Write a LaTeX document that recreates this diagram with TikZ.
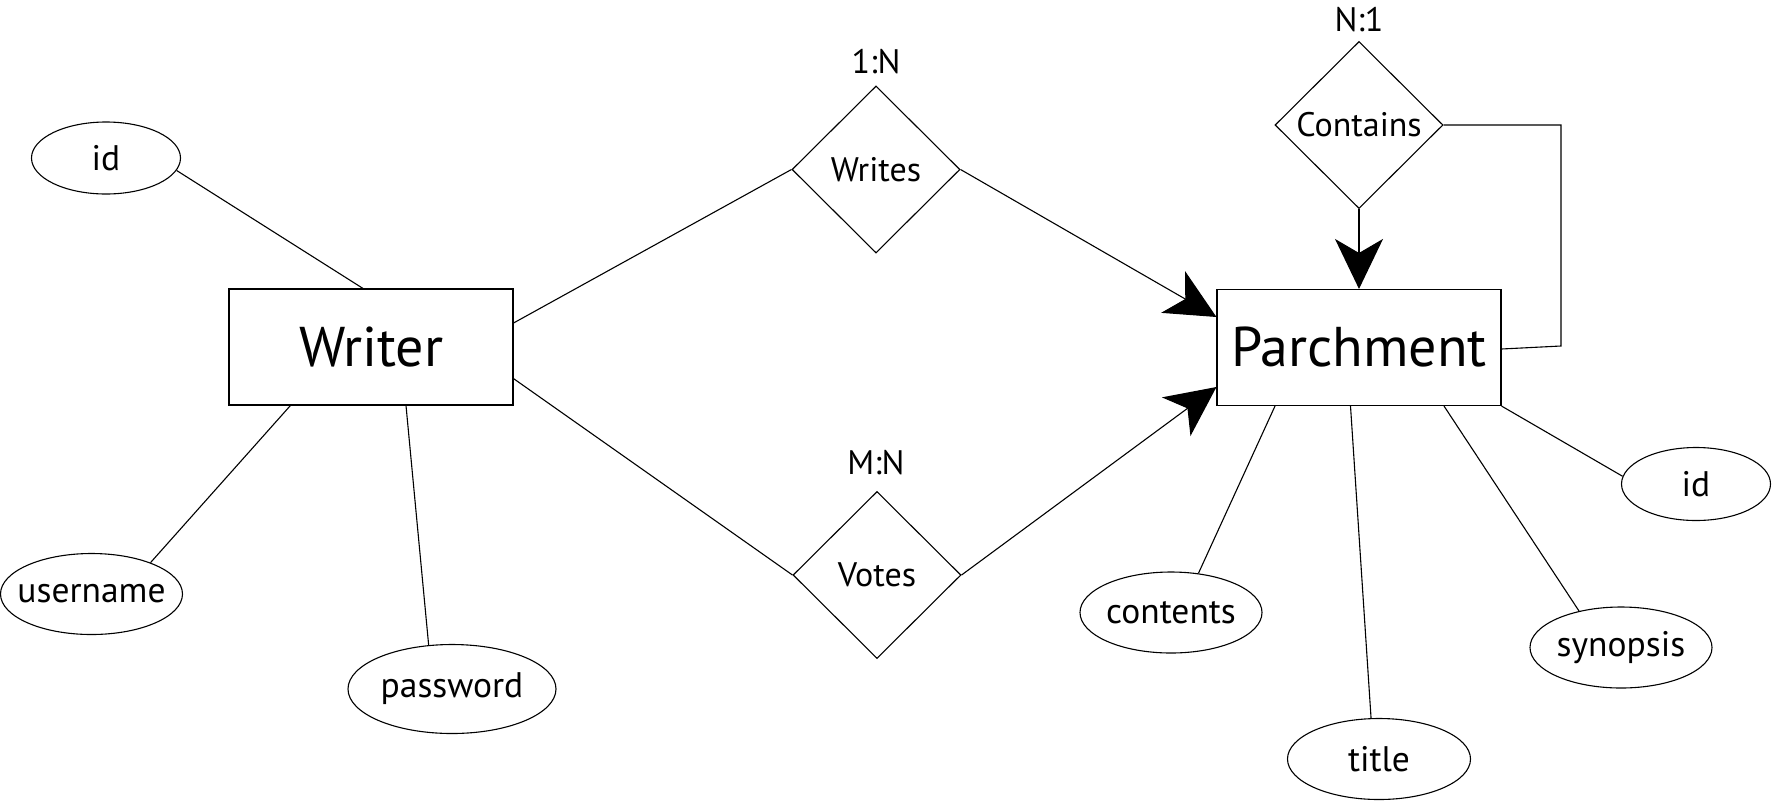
\documentclass[tikz,border=0pt]{standalone}
\usepackage{fontspec}
\setmainfont{PT Sans}
\usetikzlibrary{shapes.geometric,arrows.meta,calc}
\begin{document}
\begin{tikzpicture}[x=1pt,y=-1pt,line width=1.1pt,
  attr/.style={draw,ellipse,inner ysep=0pt,inner xsep=-40pt,minimum width=182pt,minimum height=81pt,font=\fontsize{35.5}{38}\selectfont},
  entity/.style={draw,rectangle,inner sep=0pt,minimum width=284pt,minimum height=116pt,font=\fontsize{56}{60}\selectfont},
  rel/.style={draw,diamond,aspect=1,inner sep=0pt,minimum width=168pt,minimum height=167pt,font=\fontsize{34}{36}\selectfont},
  card/.style={font=\fontsize{34}{36}\selectfont,inner sep=0pt},
  conn/.style={line width=1.1pt},
  tip/.style={-{Stealth[length=50pt,width=48pt,inset=14pt]}}]
\useasboundingbox (0,0) rectangle (1772,804);
\fill[white] (0,0) rectangle (1772,804);
% entities
\node[entity] (writer) at (371,347) {Writer};
\node[entity] (parch) at (1359,347.5) {Parchment};
% relationships
\node[rel] (writes) at (876,169.5) {Writes};
\node[rel] (votes) at (877,575) {Votes};
\node[rel] (contains) at (1359,125) {Contains};
\node[card] (c1) at (876,62) {1:N};
\node[card] (c2) at (876,463) {M:N};
\node[card] (c3) at (1359,20) {N:1};
% attributes
\node[attr,minimum width=149pt,minimum height=72pt] (id1) at (106,158) {id};
\node[attr] (username) at (91.5,594) {username};
\node[attr,minimum width=208pt,minimum height=89pt] (password) at (452,689) {password};
\node[attr,minimum width=149pt,minimum height=73pt] (id2) at (1696,484) {id};
\node[attr] (synopsis) at (1621,647.5) {synopsis};
\node[attr,minimum width=183pt] (title) at (1379,759) {title};
\node[attr] (contents) at (1171,612.5) {contents};
% connectors
\draw[conn] (id1.-10) -- ([xshift=-8pt]writer.north);
\draw[conn] ([xshift=-80.6pt]writer.south) -- (username.28);
\draw[conn] ([xshift=35pt]writer.south) -- (password.118);
\draw[conn] ([yshift=24pt]writer.east) -- (writes.west);
\draw[conn] ([yshift=-31.6pt]writer.east) -- (votes.west);
\draw[conn,tip] (writes.east) -- ([yshift=30.5pt]parch.west);
\draw[conn,tip] (votes.east) -- ([yshift=-39.5pt]parch.west);
\draw[conn,tip] (contains.south) -- (parch.north);
\coordinate (k1) at (1561,125);
\coordinate (k2) at (1561,346);
\draw[conn] (contains.east) -- (k1) -- (k2) -- ([yshift=-1.5pt]parch.east);
\draw[conn] ([xshift=-84pt]parch.south) -- (contents.55);
\draw[conn] ([xshift=-8.5pt]parch.south) -- (title.101);
\draw[conn] ([xshift=85pt]parch.south) -- (synopsis.139);
\draw[conn] (parch.south east) -- (id2.174);
\end{tikzpicture}
\end{document}
